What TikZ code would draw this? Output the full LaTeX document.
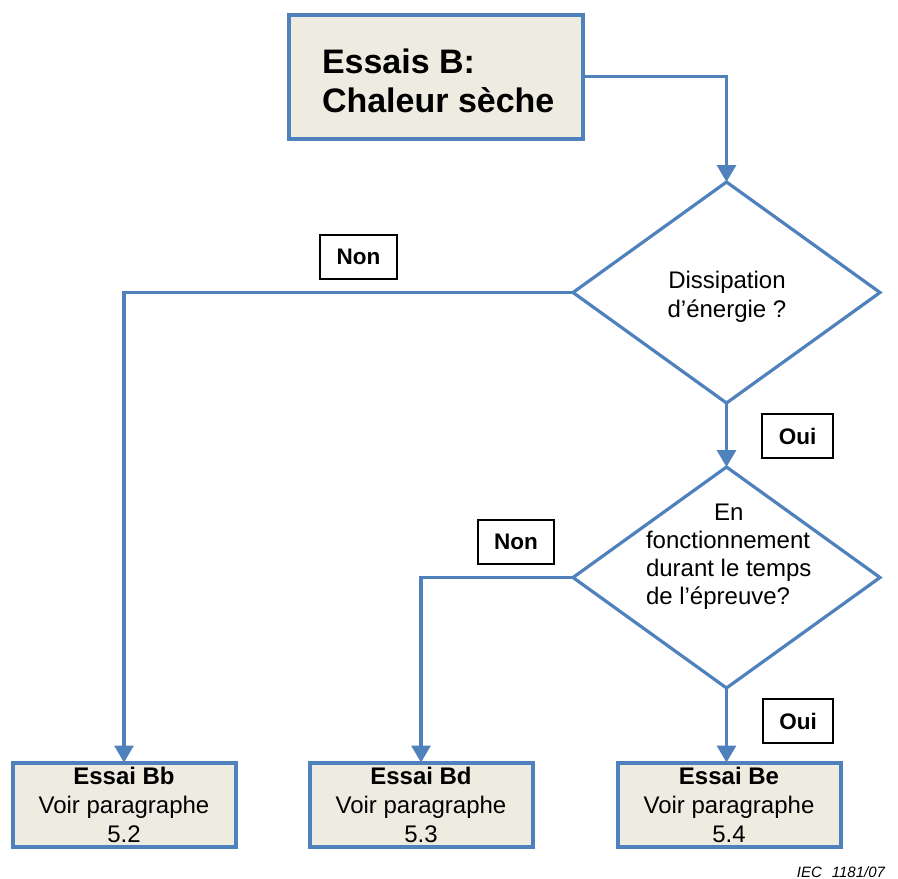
\documentclass[tikz,border=0pt]{standalone}
\usepackage{fontspec}
\setmainfont{Liberation Sans}
\usetikzlibrary{shapes.geometric,arrows.meta}
\definecolor{flowblue}{HTML}{4F81BD}
\definecolor{boxfill}{HTML}{EEECE1}
\begin{document}
\begin{tikzpicture}[x=1pt,y=-1pt,
  blockbox/.style={draw=flowblue,line width=4pt,fill=boxfill,inner sep=0pt,outer sep=0pt},
  decision/.style={diamond,draw=flowblue,line width=3.2pt,inner sep=0pt,outer sep=0pt,minimum width=307pt,minimum height=221pt},
  answer/.style={draw=black,line width=1.2pt,fill=white,inner sep=0pt,minimum height=44pt,font=\fontsize{22.5}{26}\selectfont\bfseries},
  flow/.style={draw=flowblue,line width=3.2pt,-{Triangle[width=19pt,length=17pt]}},
  txt/.style={inner sep=0pt,outer sep=0pt}
]
\useasboundingbox[fill=white] (0,0) rectangle (898,879);

% boxes
\node[blockbox,minimum width=294pt,minimum height=124pt] (top) at (435.5,76.5) {};
\node[txt,anchor=base west,font=\fontsize{34}{39}\selectfont\bfseries] (toptext) at (322,73)
  {\begin{tabular}[t]{@{}l@{}}Essais B:\\ Chaleur sèche\end{tabular}};

\node[decision] (d1) at (726.5,292.5) {};
\node[txt,anchor=base,font=\fontsize{24}{29}\selectfont] (d1text) at (727,288)
  {\begin{tabular}[t]{@{}c@{}}Dissipation\\ d’énergie ?\end{tabular}};

\node[decision] (d2) at (726.5,577.5) {};
\node[txt,anchor=base west,font=\fontsize{24}{28}\selectfont] (d2text) at (646,520)
  {\begin{tabular}[t]{@{}l@{}}\multicolumn{1}{@{}c@{}}{En}\\ fonctionnement\\ durant le temps\\ de l’épreuve?\end{tabular}};

\node[blockbox,minimum width=223pt,minimum height=84pt] (bb) at (124,804.5) {};
\node[blockbox,minimum width=223pt,minimum height=84pt] (bd) at (421,804.5) {};
\node[blockbox,minimum width=223pt,minimum height=84pt] (be) at (729,804.5) {};

\node[txt,anchor=base,font=\fontsize{24}{29}\selectfont] (bbtext) at (124,784)
  {\begin{tabular}[t]{@{}c@{}}\bfseries Essai Bb\\ Voir paragraphe\\ 5.2\end{tabular}};
\node[txt,anchor=base,font=\fontsize{24}{29}\selectfont] (bdtext) at (421,784)
  {\begin{tabular}[t]{@{}c@{}}\bfseries Essai Bd\\ Voir paragraphe\\ 5.3\end{tabular}};
\node[txt,anchor=base,font=\fontsize{24}{29}\selectfont] (betext) at (729,784)
  {\begin{tabular}[t]{@{}c@{}}\bfseries Essai Be\\ Voir paragraphe\\ 5.4\end{tabular}};

% answer labels
\node[answer,minimum width=77pt] (non1) at (358.5,257) {Non};
\node[answer,minimum width=71pt] (oui1) at (797.5,436) {Oui};
\node[answer,minimum width=76pt] (non2) at (516,542) {Non};
\node[answer,minimum width=70pt] (oui2) at (798,721) {Oui};

% connectors
\draw[flow] (top.east) -| (d1.north);
\draw[flow] (d1.south) -- (d2.north);
\draw[flow] (d1.west) -| (bb.north);
\draw[flow] (d2.west) -| (bd.north);
\draw[flow] (d2.south) -- (d2.south |- be.north);

\node[txt,anchor=base east,font=\fontsize{15}{17}\selectfont\itshape] (iec) at (885,877) {IEC\hspace{10pt}1181/07};
\end{tikzpicture}
\end{document}
